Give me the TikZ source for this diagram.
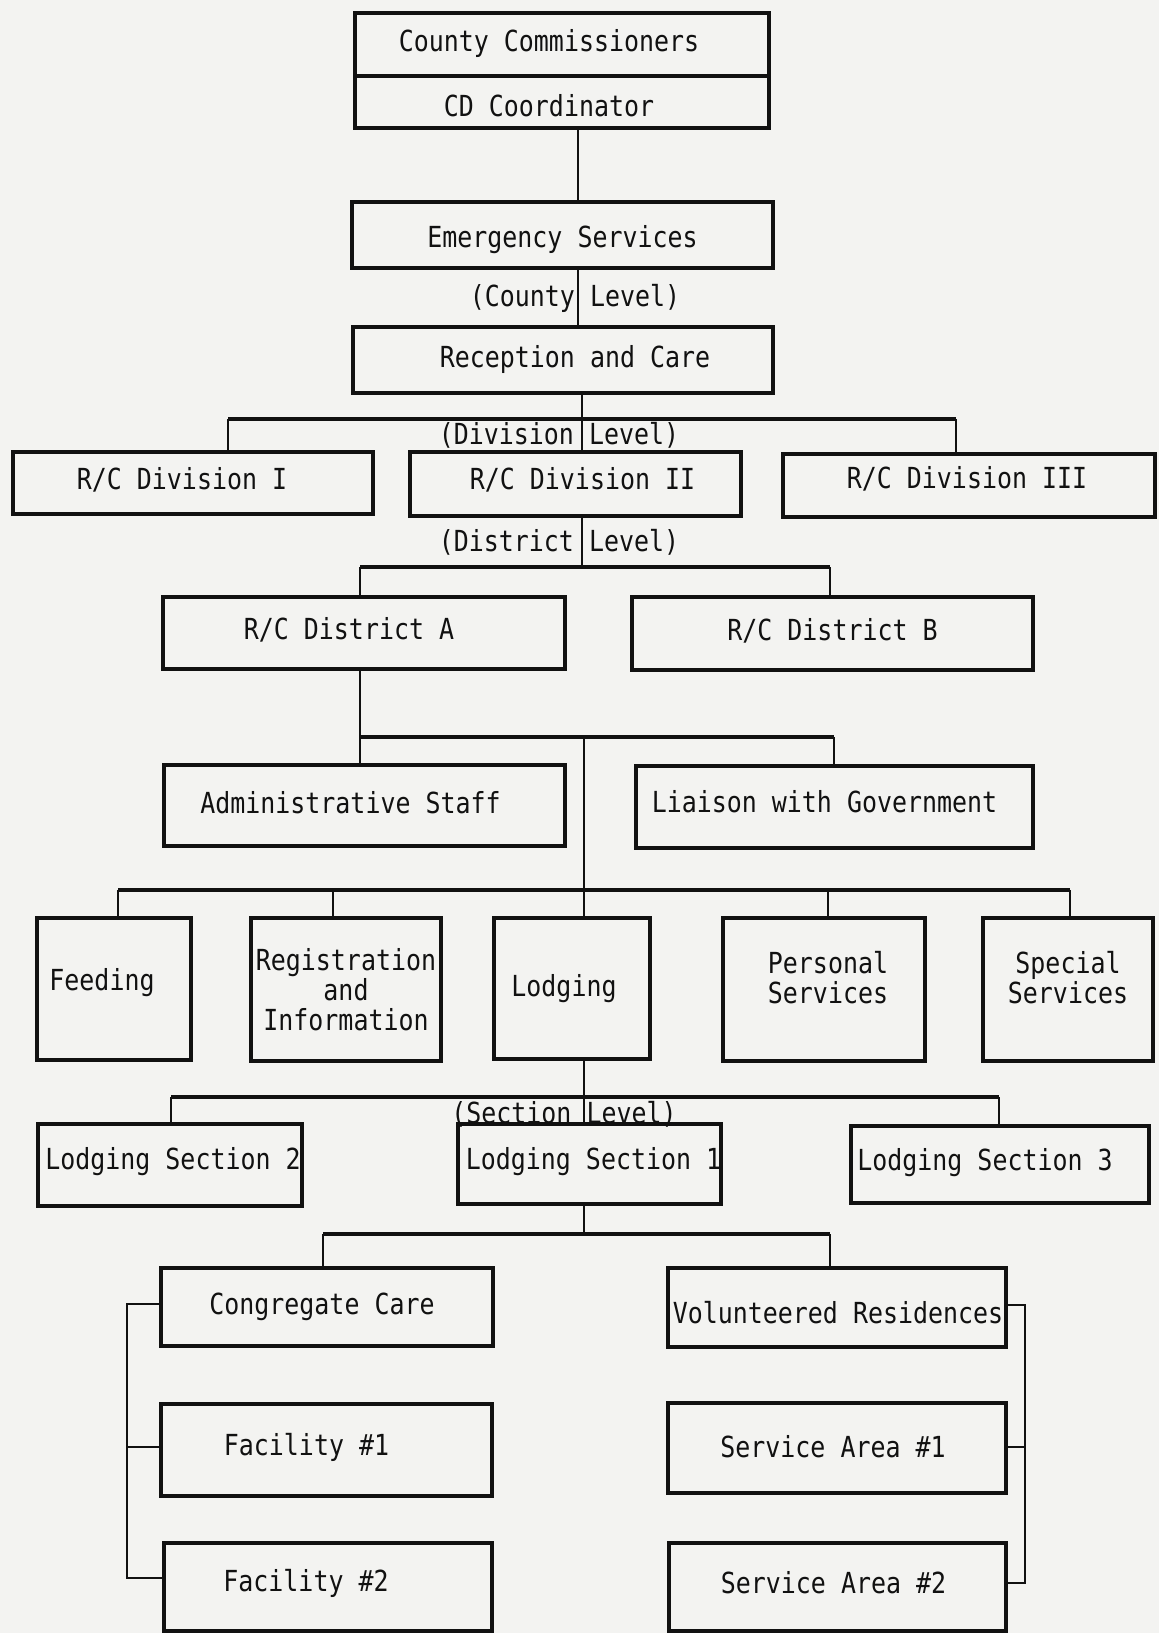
\documentclass[tikz,border=0pt]{standalone}
\usepackage{fontspec}
\newfontfamily\typew[FakeStretch=0.86]{DejaVu Sans Mono}
\definecolor{paper}{HTML}{F3F3F1}
\definecolor{ink}{HTML}{111111}
\newcommand\orgbox[8]{%
  \pgfmathsetmacro\bcx{(#2+#4)/2}%
  \pgfmathsetmacro\bcy{(#3+#5)/2}%
  \pgfmathsetmacro\bww{(#4-#2)*0.5}%
  \pgfmathsetmacro\bhh{(#5-#3)*0.5}%
  \node[orgframe,minimum width=\bww pt,minimum height=\bhh pt] (#1) at (\bcx,\bcy) {};%
  \node[orgtext] (#1-t) at ([xshift=#6*0.5pt,yshift=-#7*0.5pt]#1.center) {#8};%
}
\begin{document}
\begin{tikzpicture}[x=0.5pt,y=-0.5pt,
  orgframe/.style={draw=ink,line width=1.6pt,inner sep=0pt,outer sep=0pt},
  orgtext/.style={text=ink,inner sep=0pt,align=center,font=\typew\fontsize{14.5}{15}\selectfont},
  lvl/.style={text=ink,inner sep=0pt,font=\typew\fontsize{14.5}{15}\selectfont},
  conn/.style={draw=ink,line width=1.15pt},
  barline/.style={draw=ink,line width=1.8pt}]
\fill[paper] (0,0) rectangle (1159,1633);
\useasboundingbox (0,0) rectangle (1159,1633);

% ---- boxes ----
\orgbox{comm}{355}{13}{769}{76}{-13}{-1}{County Commissioners}
\orgbox{cdco}{355}{76}{769}{128}{-13}{4}{CD Coordinator}
\orgbox{emer}{352}{202}{773}{268}{0}{5}{Emergency Services}
\orgbox{rcare}{353}{327}{773}{393}{12}{-1}{Reception and Care}
\orgbox{div1}{13}{452}{373}{514}{-11}{-3}{R/C Division I}
\orgbox{div2}{410}{452}{741}{516}{7}{-4}{R/C Division II}
\orgbox{div3}{783}{454}{1155}{517}{-2}{-7}{R/C Division III}
\orgbox{dista}{163}{597}{565}{669}{-15}{-3}{R/C District A}
\orgbox{distb}{632}{597}{1033}{670}{0}{-3}{R/C District B}
\orgbox{admin}{164}{765}{565}{846}{-14}{-3}{Administrative Staff}
\orgbox{liais}{636}{766}{1033}{848}{-10}{-5}{Liaison with Government}
\orgbox{feed}{37}{918}{191}{1060}{-12}{-6}{Feeding}
\orgbox{regi}{251}{918}{441}{1061}{0}{0}{Registration\\and\\Information}
\orgbox{lodg}{494}{918}{650}{1059}{-8}{0}{Lodging}
\orgbox{pers}{723}{918}{925}{1061}{4}{-12}{Personal\\Services}
\orgbox{spec}{983}{918}{1153}{1061}{0}{-12}{Special\\Services}
\orgbox{lsb}{38}{1124}{302}{1206}{3}{-3}{Lodging Section 2}
\orgbox{lsa}{458}{1124}{721}{1204}{4}{-2}{Lodging Section 1}
\orgbox{lsc}{851}{1126}{1149}{1203}{-15}{-2}{Lodging Section 3}
\orgbox{cong}{161}{1268}{493}{1346}{-5}{0}{Congregate Care}
\orgbox{volr}{668}{1268}{1006}{1347}{1}{5}{Volunteered Residences}
\orgbox{fac1}{161}{1404}{492}{1496}{-20}{-3}{Facility \#1}
\orgbox{fac2}{164}{1543}{492}{1631}{-22}{-4}{Facility \#2}
\orgbox{sar1}{668}{1403}{1006}{1493}{-4}{-1}{Service Area \#1}
\orgbox{sar2}{669}{1543}{1006}{1631}{-4}{-4}{Service Area \#2}

% ---- level labels ----
\node[lvl] (lvcounty) at (575,298) {(County Level)};
\node[lvl] (lvdiv) at (559,435) {(Division Level)};
\node[lvl] (lvdist) at (559,542) {(District Level)};
\node[lvl] (lvsec) at (564,1114) {(Section Level)};

% ---- connector coordinates ----
\coordinate (tA) at (578,0);
\coordinate (b1L) at (228,419);
\coordinate (b1M) at (582,419);
\coordinate (b1R) at (956,419);
\coordinate (b2L) at (360,567);
\coordinate (b2M) at (582,567);
\coordinate (b2R) at (830,567);
\coordinate (b3L) at (360,737);
\coordinate (b3M) at (584,737);
\coordinate (b3R) at (834,737);
\coordinate (b4L) at (118,890);
\coordinate (b4a) at (333,890);
\coordinate (b4b) at (828,890);
\coordinate (b4R) at (1070,890);
\coordinate (b5L) at (171,1097);
\coordinate (b5M) at (584,1097);
\coordinate (b5R) at (999,1097);
\coordinate (b6L) at (323,1234);
\coordinate (b6M) at (584,1234);
\coordinate (b6R) at (830,1234);
\coordinate (kL1) at (127,1304);
\coordinate (kL2) at (127,1447);
\coordinate (kL3) at (127,1578);
\coordinate (kR1) at (1025,1305);
\coordinate (kR2) at (1025,1447);
\coordinate (kR3) at (1025,1583);

% ---- connectors ----
\draw[conn] (cdco.south -| tA) -- (emer.north -| tA);
\draw[conn] (emer.south -| tA) -- (rcare.north -| tA);
\draw[conn] (rcare.south -| b1M) -- (div2.north -| b1M);
\draw[barline] (b1L) -- (b1R);
\draw[conn] (b1L) -- (div1.north -| b1L);
\draw[conn] (b1R) -- (div3.north -| b1R);

\draw[conn] (div2.south -| b2M) -- (b2M);
\draw[barline] (b2L) -- (b2R);
\draw[conn] (b2L) -- (dista.north -| b2L);
\draw[conn] (b2R) -- (distb.north -| b2R);

\draw[conn] (dista.south -| b3L) -- (admin.north -| b3L);
\draw[barline] (b3L) -- (b3R);
\draw[conn] (b3R) -- (liais.north -| b3R);
\draw[conn] (b3M) -- (lodg.north -| b3M);

\draw[barline] (b4L) -- (b4R);
\draw[conn] (b4L) -- (feed.north -| b4L);
\draw[conn] (b4a) -- (regi.north -| b4a);
\draw[conn] (b4b) -- (pers.north -| b4b);
\draw[conn] (b4R) -- (spec.north -| b4R);

\draw[conn] (lodg.south -| b5M) -- (lsa.north -| b5M);
\draw[barline] (b5L) -- (b5R);
\draw[conn] (b5L) -- (lsb.north -| b5L);
\draw[conn] (b5R) -- (lsc.north -| b5R);

\draw[conn] (lsa.south -| b6M) -- (b6M);
\draw[barline] (b6L) -- (b6R);
\draw[conn] (b6L) -- (cong.north -| b6L);
\draw[conn] (b6R) -- (volr.north -| b6R);

\draw[conn] (cong.west |- kL1) -- (kL1) -- (kL3) -- (fac2.west |- kL3);
\draw[conn] (kL2) -- (fac1.west |- kL2);
\draw[conn] (volr.east |- kR1) -- (kR1) -- (kR3) -- (sar2.east |- kR3);
\draw[conn] (kR2) -- (sar1.east |- kR2);
\end{tikzpicture}
\end{document}
